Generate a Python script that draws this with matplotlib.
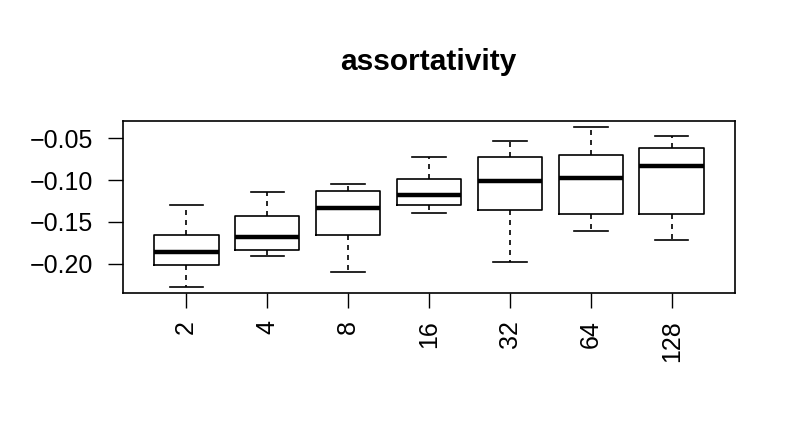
import matplotlib
matplotlib.use("Agg")
from matplotlib import pyplot as plt

plt.rcParams["font.family"] = ["Liberation Sans", "DejaVu Sans"]

LABELS = ["2", "4", "8", "16", "32", "64", "128"]
WHISK_LO = [-0.2275, -0.191, -0.2102, -0.1396, -0.1982, -0.1605, -0.172]
Q1 = [-0.201, -0.1833, -0.1653, -0.1295, -0.136, -0.140, -0.140]
MED = [-0.1857, -0.1677, -0.1335, -0.1175, -0.1014, -0.097, -0.0829]
Q3 = [-0.166, -0.1424, -0.1127, -0.099, -0.0717, -0.0693, -0.062]
WHISK_HI = [-0.1299, -0.1147, -0.1046, -0.072, -0.0536, -0.0367, -0.0472]

stats = []
for i, lab in enumerate(LABELS):
    stats.append({
        "label": lab,
        "whislo": WHISK_LO[i],
        "q1": Q1[i],
        "med": MED[i],
        "q3": Q3[i],
        "whishi": WHISK_HI[i],
        "fliers": [],
    })

fig = plt.figure(figsize=(7.96, 4.46), dpi=100)
ax = fig.add_axes([123 / 796, 1 - 293 / 446, (735 - 123) / 796, (293 - 121) / 446])

ax.bxp(
    stats,
    positions=range(1, 8),
    widths=0.8,
    showfliers=False,
    boxprops=dict(color="black", linewidth=1.2),
    medianprops=dict(color="black", linewidth=3.2, solid_capstyle="butt"),
    whiskerprops=dict(color="black", linewidth=1.2, linestyle=(0, (3, 3))),
    capprops=dict(color="black", linewidth=1.2),
    capwidths=0.41,
)

ax.set_xlim(0.22, 7.78)
ax.set_ylim(-0.2351, -0.0291)
ax.set_yticks([-0.20, -0.15, -0.10, -0.05])
ax.set_yticklabels(["\u22120.20", "\u22120.15", "\u22120.10", "\u22120.05"])
ax.set_xticks(range(1, 8))
ax.set_xticklabels(LABELS, rotation=90)
ax.tick_params(axis="both", length=10.5, width=1.0, labelsize=18)
ax.tick_params(axis="y", pad=11)
ax.tick_params(axis="x", pad=9)
for s in ax.spines.values():
    s.set_linewidth(1.2)

fig.text(428 / 796, 1 - 70 / 446, "assortativity", ha="center", va="baseline",
         fontsize=21.5, fontweight="bold")

fig.savefig("out.png", dpi=100)
